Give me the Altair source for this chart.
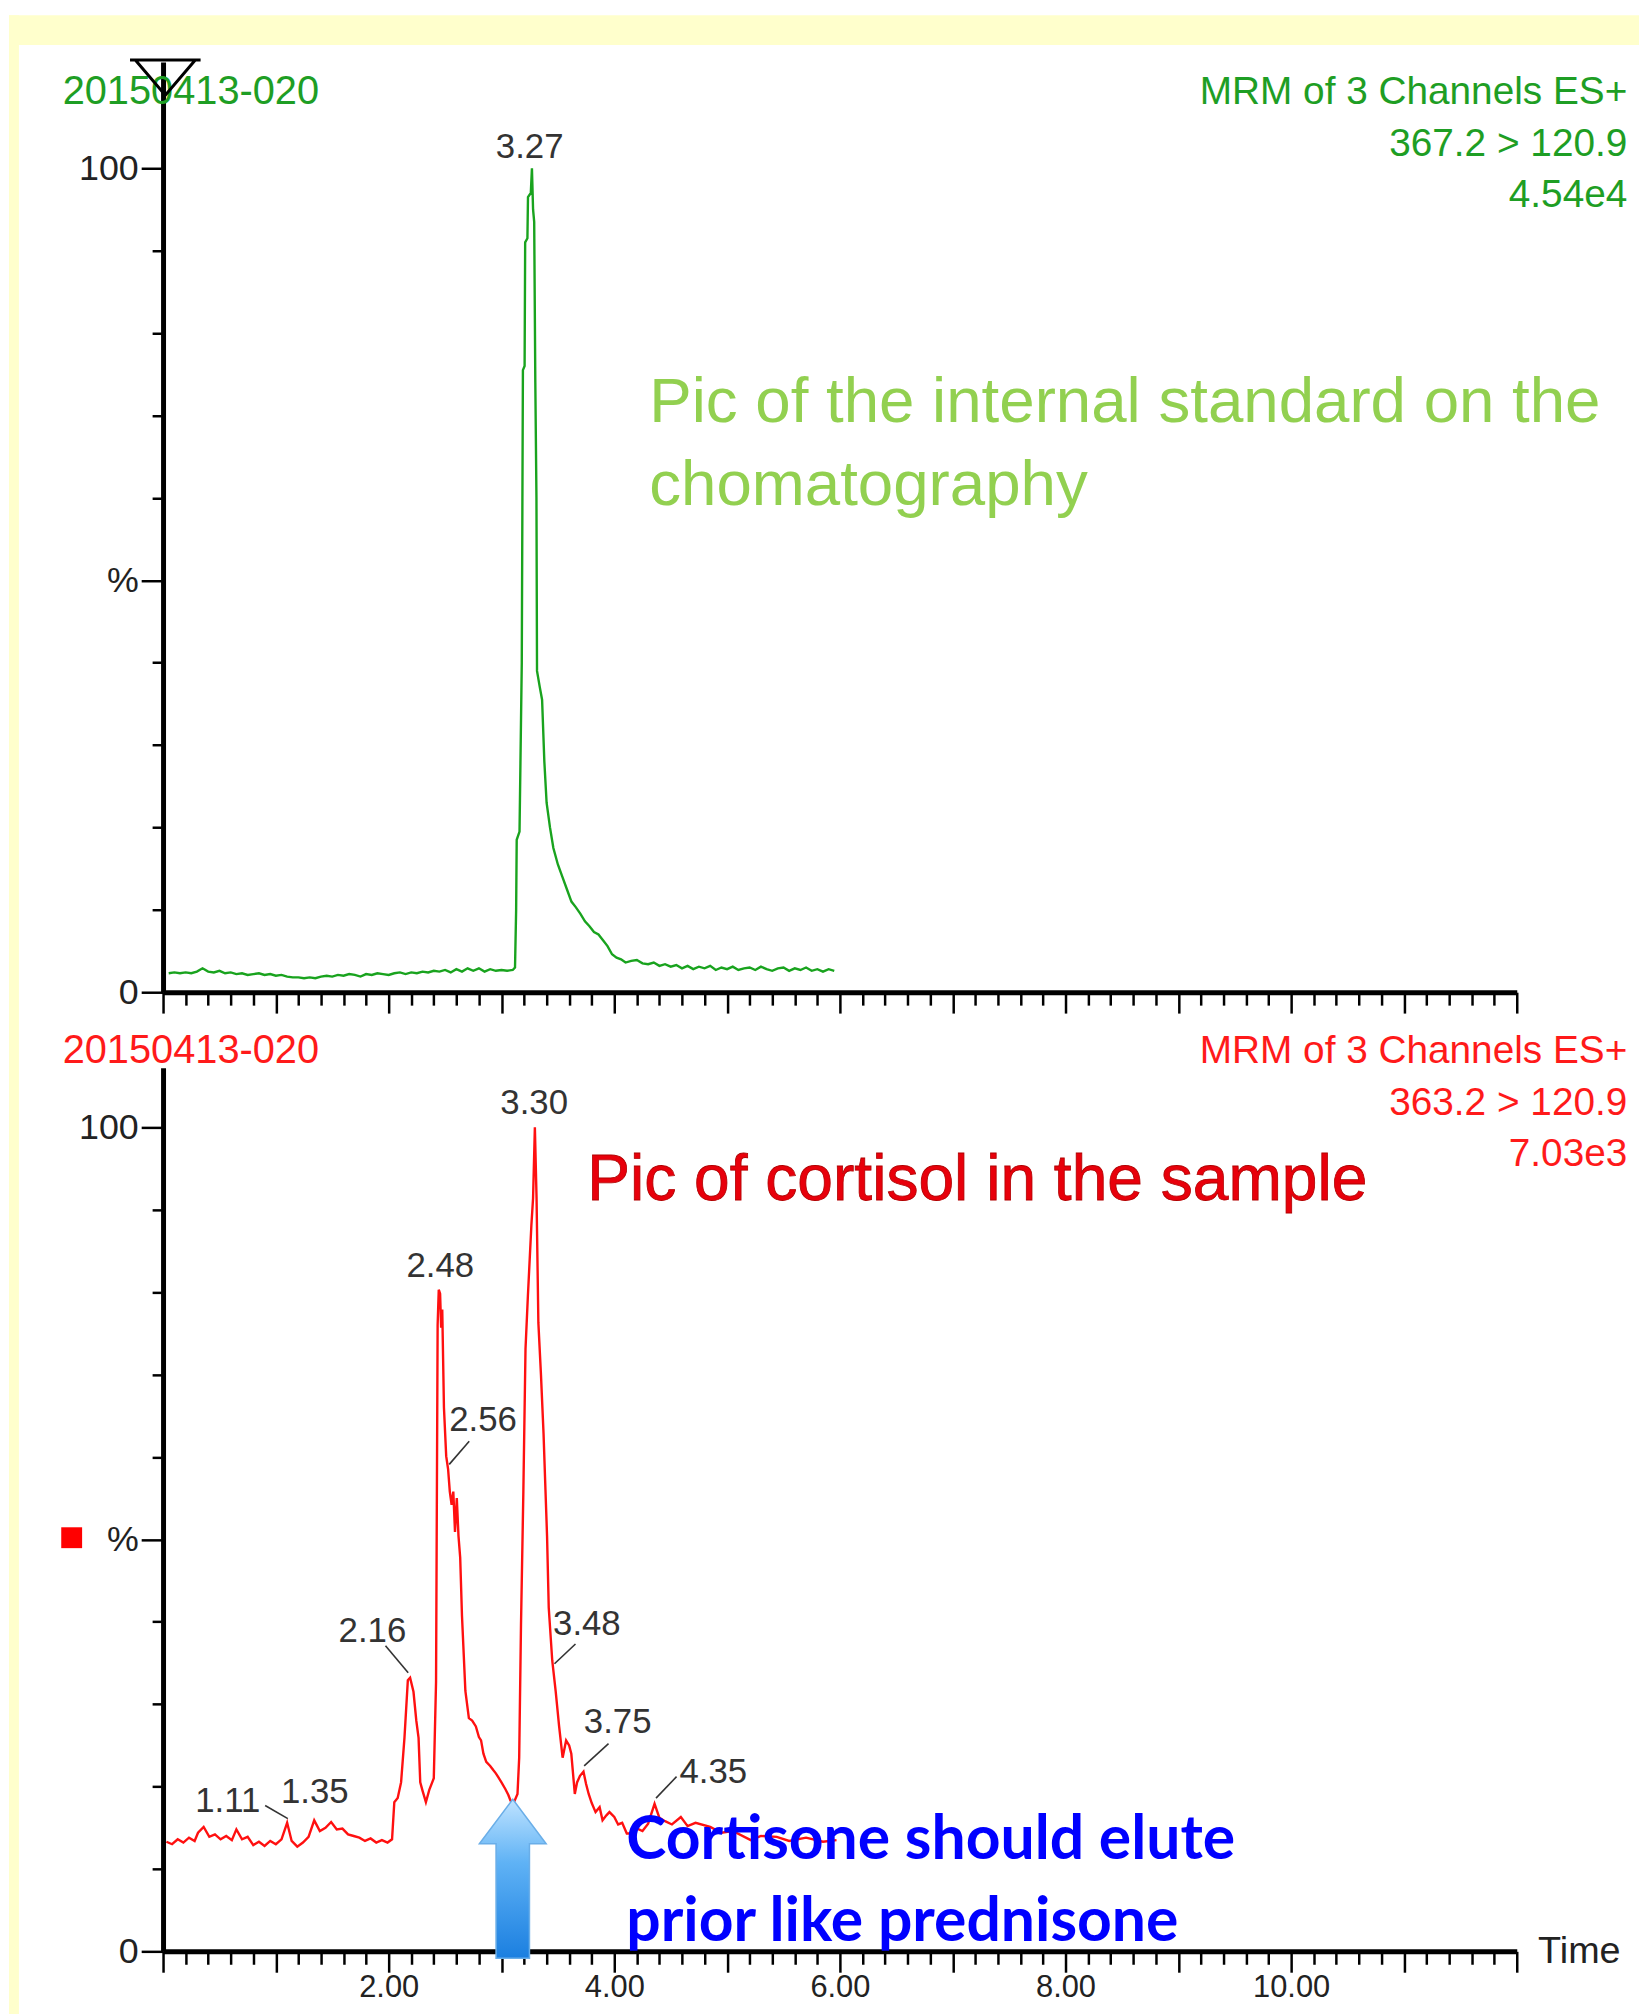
import altair as alt
import pandas as pd

# ----------------------------- data -----------------------------
# Top trace: internal standard, 367.2 > 120.9 (time in min, relative intensity in %)
green_base_t = [0.05, 0.10, 0.15, 0.20, 0.25, 0.30, 0.35, 0.40, 0.45, 0.50,
                0.55, 0.60, 0.65, 0.70, 0.75, 0.80, 0.85, 0.90, 0.95, 1.00,
                1.05, 1.10, 1.15, 1.20, 1.25, 1.30, 1.35, 1.40, 1.45, 1.50,
                1.55, 1.60, 1.65, 1.70, 1.75, 1.80, 1.85, 1.90, 1.95, 2.00,
                2.05, 2.10, 2.15, 2.20, 2.25, 2.30, 2.35, 2.40, 2.45, 2.50,
                2.55, 2.60, 2.65, 2.70, 2.75, 2.80, 2.85, 2.90, 2.95, 3.00,
                3.05, 3.10]
green_base_p = [2.3, 2.4, 2.3, 2.4, 2.3, 2.5, 2.9, 2.5, 2.4, 2.6,
                2.3, 2.4, 2.2, 2.3, 2.1, 2.2, 2.3, 2.1, 2.2, 2.0,
                2.1, 1.9, 1.8, 1.8, 1.7, 1.8, 1.7, 1.9, 2.0, 1.9,
                2.1, 2.0, 2.2, 2.1, 1.9, 2.2, 2.1, 2.3, 2.2, 2.1,
                2.3, 2.4, 2.2, 2.4, 2.3, 2.5, 2.4, 2.6, 2.5, 2.7,
                2.4, 2.8, 2.5, 2.9, 2.6, 2.9, 2.5, 2.8, 2.6, 2.7,
                2.6, 2.7]
green_peak_t = [3.12, 3.13, 3.135, 3.16, 3.18, 3.19, 3.205, 3.21, 3.23, 3.235,
                3.26, 3.27, 3.28, 3.29, 3.30, 3.31, 3.315, 3.34, 3.36, 3.38,
                3.40, 3.43, 3.46, 3.50, 3.54, 3.58, 3.62, 3.66, 3.70, 3.74,
                3.78, 3.82, 3.86, 3.90, 3.94, 3.98, 4.02, 4.06, 4.10, 4.15,
                4.20, 4.25, 4.30, 4.35, 4.40, 4.45, 4.50, 4.55]
green_peak_p = [3.0, 10, 18.5, 19.5, 40, 75.5, 76, 91, 91.5, 96.5,
                97, 100, 95, 93.5, 74, 60, 39, 37, 35.5, 28,
                23, 20, 17.5, 15.5, 14, 12.5, 11, 10.3, 9.5, 8.6,
                8.0, 7.3, 7.0, 6.3, 5.6, 4.6, 4.2, 4.0, 3.6, 3.8,
                3.9, 3.5, 3.4, 3.6, 3.2, 3.4, 3.1, 3.3]
green_tail_t = [4.60, 4.65, 4.70, 4.75, 4.80, 4.85, 4.90, 4.95, 5.00, 5.05,
                5.10, 5.15, 5.20, 5.25, 5.30, 5.35, 5.40, 5.45, 5.50, 5.55,
                5.60, 5.65, 5.70, 5.75, 5.80, 5.85, 5.90, 5.95]
green_tail_p = [2.9, 3.2, 2.8, 3.1, 2.9, 3.2, 2.7, 3.0, 2.8, 3.1,
                2.7, 2.9, 3.0, 2.7, 3.1, 2.8, 2.6, 2.9, 3.0, 2.6,
                2.9, 2.7, 3.0, 2.6, 2.8, 2.5, 2.8, 2.6]

# Bottom trace: cortisol, 363.2 > 120.9
red_base_t = [0.03, 0.08, 0.13, 0.18, 0.23, 0.28, 0.31, 0.36, 0.41, 0.46,
              0.51, 0.56, 0.61, 0.65, 0.70, 0.75, 0.80, 0.85, 0.90, 0.95,
              1.00, 1.05, 1.10, 1.14, 1.19, 1.24, 1.29, 1.34, 1.39, 1.44,
              1.49, 1.54, 1.59, 1.64, 1.69, 1.74, 1.79, 1.84, 1.89, 1.94,
              1.99, 2.03]
red_base_p = [13.3, 13.0, 13.6, 13.2, 13.8, 13.4, 14.4, 15.1, 13.9, 14.2,
              13.6, 14.0, 13.5, 14.8, 13.6, 13.9, 12.9, 13.3, 12.8, 13.4,
              13.0, 13.6, 15.6, 13.4, 12.7, 13.2, 13.9, 15.9, 14.6, 15.0,
              15.7, 14.8, 14.9, 14.2, 14.0, 13.8, 13.4, 13.7, 13.2, 13.5,
              13.2, 13.6]
red_peak_t = [2.05, 2.08, 2.11, 2.14, 2.17, 2.19, 2.22, 2.245, 2.265, 2.28,
              2.30, 2.33, 2.36, 2.40, 2.42, 2.434, 2.444, 2.456, 2.465, 2.475,
              2.49, 2.51, 2.527, 2.542, 2.558, 2.573, 2.588, 2.604, 2.619, 2.634,
              2.65, 2.68, 2.711, 2.74, 2.773, 2.80, 2.819, 2.84, 2.865, 2.90,
              2.927, 2.95, 2.973, 3.00, 3.034, 3.06, 3.08, 3.111, 3.142, 3.157,
              3.173, 3.194, 3.213, 3.234, 3.265, 3.28, 3.296, 3.311, 3.327, 3.35,
              3.373, 3.39, 3.404, 3.419, 3.45, 3.481, 3.511, 3.542, 3.573, 3.60,
              3.619, 3.65, 3.67, 3.696, 3.727, 3.75, 3.773, 3.80, 3.834, 3.87,
              3.896, 3.93, 3.957, 4.00, 4.034, 4.07, 4.111, 4.14, 4.17, 4.204,
              4.25, 4.30, 4.357, 4.40, 4.45, 4.511]
red_peak_p = [18.1, 18.6, 20.5, 25.9, 32.9, 33.2, 31.5, 28, 25.9, 20.5,
              19.5, 18.1, 19.6, 21.0, 32.7, 76, 80.3, 79.8, 75.7, 77.9,
              66.0, 60.1, 58.5, 55.8, 54.2, 55.8, 50.9, 55.0, 50.4, 47.8,
              40.7, 31.6, 28.3, 28.0, 27.3, 26.0, 25.6, 24.0, 23.0, 22.5,
              22.0, 21.6, 21.1, 20.5, 19.7, 19.0, 18.3, 18.1, 19.1, 23.5,
              39.6, 55.8, 73.1, 79.5, 88.1, 91.4, 100, 91.4, 76.3, 70,
              62.8, 56, 50.4, 41.7, 35.3, 31.5, 27.3, 23.5, 25.6, 25.0,
              24.0, 19.1, 20.5, 21.3, 21.8, 20.3, 19.1, 18.0, 16.9, 17.5,
              15.9, 16.5, 16.9, 16.3, 15.4, 15.6, 14.3, 14.3, 15.0, 14.9,
              14.6, 15.5, 17.9, 16.2, 15.8, 15.4]
red_tail_t = [4.59, 4.65, 4.72, 4.85, 4.95, 5.05, 5.21, 5.30, 5.44, 5.55, 5.70, 5.85, 5.97]
red_tail_p = [16.3, 15.2, 15.6, 15.1, 14.4, 14.6, 13.5, 14.0, 13.9, 13.4, 13.8, 13.3, 13.5]

# Peak labels (text, anchor time, anchor %)
top_peak_text = ["3.27"]
top_peak_t = [3.25]
top_peak_p = [101.3]

bot_peak_text = ["3.30", "2.48", "2.56", "2.16", "3.48", "3.75", "4.35", "1.11", "1.35"]
bot_peak_t = [3.29, 2.458, 2.837, 1.856, 3.757, 4.03, 4.877, 0.573, 1.345]
bot_peak_p = [101.6, 81.8, 63.2, 37.6, 38.4, 26.5, 20.4, 16.9, 18.0]

# Leader lines from labels to peaks
lead_t1 = [2.714, 1.972, 3.656, 3.949, 4.552, 0.905]
lead_p1 = [61.9, 37.1, 37.3, 25.2, 21.2, 17.7]
lead_t2 = [2.537, 2.173, 3.47, 3.733, 4.37, 1.106]
lead_p2 = [59.1, 33.8, 34.9, 22.5, 18.6, 16.1]

# Header / annotation texts
sample_id = "20150413-020"
top_header = "MRM of 3 Channels ES+\n367.2 > 120.9\n4.54e4"
bot_header = "MRM of 3 Channels ES+\n363.2 > 120.9\n7.03e3"
top_note = "Pic of the internal standard on the\nchomatography"
bot_note = "Pic of cortisol in the sample"
blue_note = "Cortisone should elute\nprior like prednisone"

# annotation anchors (time, %)
hdr_left_t, hdr_right_t, hdr_p = -0.89, 12.98, 107.8
top_note_t, top_note_p = 4.31, 69.2
bot_note_t, bot_note_p = 3.76, 91.2
blue_note_t, blue_note_p = 4.106, 11.2
arrow_t, arrow_p = 3.10, 8.8
cursor_t, cursor_p = 0.02, 111.0
marker_t, marker_p = -0.81, 50.2

# ----------------------------- chart -----------------------------
FONT = "Liberation Sans"
W = 1362
H_TOP = 936
H_BOT = 889
PX_PER_PCT = 8.29
TOP_MAX = H_TOP / PX_PER_PCT
BOT_MAX = H_BOT / PX_PER_PCT

x_ticks = [round(i * 0.2, 1) for i in range(61)]
y_ticks = list(range(0, 101, 10))


def X(with_labels):
    kw = dict(
        values=x_ticks, grid=False, domainColor="black", domainWidth=5,
        tickColor="black", tickWidth=2.5,
        tickSize={"condition": {"test": "abs(datum.value - round(datum.value)) < 0.01", "value": 21},
                  "value": 13},
        labelFont=FONT, labelFontSize=31, labelColor="#222", labelPadding=0,
        labelOverlap=False, labelFlush=False,
    )
    if with_labels:
        kw.update(
            labelExpr="datum.value > 1 && datum.value < 11 && abs(datum.value/2 - round(datum.value/2)) < 0.01 ? format(datum.value, '.2f') : ''",
            title="Time", titleFont=FONT, titleFontSize=38, titleFontWeight="normal",
            titleColor="#222", titleX=1383, titleY=0, titleAlign="left", titleBaseline="middle",
            titleAngle=0,
        )
    else:
        kw.update(labels=False, title=None)
    return alt.X("t:Q", scale=alt.Scale(domain=[0, 12], nice=False, zero=False), axis=alt.Axis(**kw))


def Y(ymax):
    return alt.Y(
        "p:Q",
        scale=alt.Scale(domain=[0, ymax], nice=False, zero=False),
        axis=alt.Axis(
            values=y_ticks, grid=False, domainColor="black", domainWidth=5,
            tickColor="black", tickWidth=2.5,
            tickSize={"condition": {"test": "datum.value % 50 == 0", "value": 22}, "value": 11},
            labelExpr="datum.value == 100 ? '100' : datum.value == 50 ? '%' : datum.value == 0 ? '0' : ''",
            labelFont=FONT, labelFontSize=36, labelColor="#222", labelPadding=3,
            labelOverlap=False, labelFlush=False, title=None,
        ),
    )


def pts(t, p, **extra):
    d = {"t": t, "p": p}
    d.update(extra)
    return pd.DataFrame(d)


one = pd.DataFrame({"t": [0], "p": [0]})

# ---------- top panel ----------
xt, yt = X(False), Y(TOP_MAX)

strip_top = alt.Chart(one).mark_rect(color="#ffffcc").encode(
    x=alt.value(-155), x2=alt.value(1485), y=alt.value(-47), y2=alt.value(-17))
strip_left = alt.Chart(one).mark_rect(color="#ffffcc").encode(
    x=alt.value(-155), x2=alt.value(-145), y=alt.value(-47), y2=alt.value(1990))

green_df = pts(green_base_t + green_peak_t + green_tail_t,
               green_base_p + green_peak_p + green_tail_p)
green_line = alt.Chart(green_df).mark_line(color="#19a31e", strokeWidth=2.4).encode(x=xt, y=yt)

top_lbl = alt.Chart(pts(top_peak_t, top_peak_p, label=top_peak_text)).mark_text(
    font=FONT, fontSize=35, color="#333", align="center", baseline="alphabetic"
).encode(x=xt, y=yt, text="label:N")

top_id = alt.Chart(pts([hdr_left_t], [hdr_p], label=[sample_id])).mark_text(
    font=FONT, fontSize=40, color="#1e9e24", align="left", baseline="alphabetic"
).encode(x=xt, y=yt, text="label:N")

top_hdr = alt.Chart(pts([hdr_right_t], [hdr_p], label=[top_header])).mark_text(
    font=FONT, fontSize=39, color="#1e9e24", align="right", baseline="alphabetic",
    lineBreak="\n", lineHeight=52
).encode(x=xt, y=yt, text="label:N")

top_txt = alt.Chart(pts([top_note_t], [top_note_p], label=[top_note])).mark_text(
    font=FONT, fontSize=64, color="#92d050", align="left", baseline="alphabetic",
    lineBreak="\n", lineHeight=83
).encode(x=xt, y=yt, text="label:N")

cursor = alt.Chart(pts([cursor_t], [cursor_p])).mark_point(
    shape="M-1,-0.5L1,-0.5M-0.85,-0.5L0,0.5L0.85,-0.5", size=5041, filled=False,
    stroke="black", strokeWidth=3, opacity=1
).encode(x=xt, y=yt)

top = alt.layer(strip_top, strip_left, green_line, top_lbl, top_id, top_hdr, top_txt, cursor).properties(
    width=W, height=H_TOP)

# ---------- bottom panel ----------
xb, yb = X(True), Y(BOT_MAX)

red_df = pts(red_base_t + red_peak_t + red_tail_t, red_base_p + red_peak_p + red_tail_p)
red_line = alt.Chart(red_df).mark_line(color="#ff1010", strokeWidth=2.4).encode(x=xb, y=yb)

leaders = alt.Chart(pd.DataFrame({"t": lead_t1, "p": lead_p1, "t2": lead_t2, "p2": lead_p2})).mark_rule(
    color="#333", strokeWidth=1.6
).encode(x=xb, y=yb, x2="t2:Q", y2="p2:Q")

bot_lbl = alt.Chart(pts(bot_peak_t, bot_peak_p, label=bot_peak_text)).mark_text(
    font=FONT, fontSize=35, color="#333", align="center", baseline="alphabetic"
).encode(x=xb, y=yb, text="label:N")

bot_id = alt.Chart(pts([hdr_left_t], [hdr_p], label=[sample_id])).mark_text(
    font=FONT, fontSize=40, color="#ff1a1a", align="left", baseline="alphabetic"
).encode(x=xb, y=yb, text="label:N")

bot_hdr = alt.Chart(pts([hdr_right_t], [hdr_p], label=[bot_header])).mark_text(
    font=FONT, fontSize=39, color="#ff1a1a", align="right", baseline="alphabetic",
    lineBreak="\n", lineHeight=52
).encode(x=xb, y=yb, text="label:N")

bot_txt = alt.Chart(pts([bot_note_t], [bot_note_p], label=[bot_note])).mark_text(
    font=FONT, fontSize=64.5, color="#e8000b", stroke="#b00000", strokeWidth=0.8,
    align="left", baseline="alphabetic"
).encode(x=xb, y=yb, text="label:N")

marker = alt.Chart(pts([marker_t], [marker_p])).mark_point(
    shape="square", size=441, filled=True, color="#ff0000", opacity=1
).encode(x=xb, y=yb)

arrow_fill = alt.LinearGradient(
    gradient="linear",
    stops=[alt.GradientStop(color="#bfe3ff", offset=0),
           alt.GradientStop(color="#5fb2f5", offset=0.4),
           alt.GradientStop(color="#1b7fe0", offset=1)],
    x1=0, x2=0, y1=0, y2=1,
)
arrow = alt.Chart(pts([arrow_t], [arrow_p])).mark_point(
    shape="M0,-1L0.42,-0.44L0.21,-0.44L0.21,1L-0.21,1L-0.21,-0.44L-0.42,-0.44Z",
    size=25600, filled=True, fill=arrow_fill, stroke="#6aaee8", strokeWidth=1.5, opacity=1
).encode(x=xb, y=yb)

blue_txt = alt.Chart(pts([blue_note_t], [blue_note_p], label=[blue_note])).mark_text(
    font="Lato", fontSize=61, fontWeight="bold", color="#0000ff", align="left",
    baseline="alphabetic", lineBreak="\n", lineHeight=82
).encode(x=xb, y=yb, text="label:N")

bottom = alt.layer(red_line, leaders, bot_lbl, bot_id, bot_hdr, bot_txt, marker, arrow, blue_txt).properties(
    width=W, height=H_BOT)

chart = alt.vconcat(top, bottom, spacing=76, bounds="flush").properties(
    background="white", padding=0
).configure_view(stroke="transparent")

chart.save("out.html", embed_options={"renderer": "svg", "actions": False})
